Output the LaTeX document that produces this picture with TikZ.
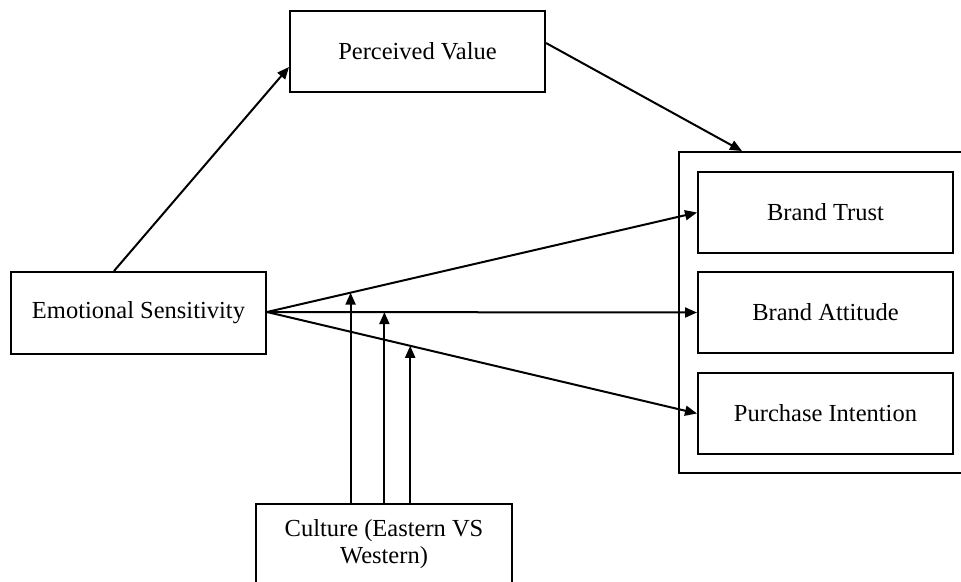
\documentclass[tikz,border=0pt]{standalone}
\usepackage{fontspec}
\setmainfont{Liberation Serif}
\usetikzlibrary{arrows.meta,calc}
\begin{document}
\begin{tikzpicture}[x=1pt,y=-1pt,
  box/.style={draw,line width=2pt,rectangle,inner sep=0pt,align=center,
    font=\fontsize{24.5}{27}\selectfont},
  conn/.style={line width=2pt,-{Triangle[length=12pt,width=10pt]}},
]
\useasboundingbox (0,0) rectangle (961,581);
\clip (0,0) rectangle (961,581);
\node[box,minimum width=255pt,minimum height=81pt] (pv) at (417.5,51.5) {Perceived Value};
\node[box,minimum width=311pt,minimum height=321pt] (outer) at (834.5,312.5) {};
\node[box,minimum width=255pt,minimum height=81pt] (bt) at (825.5,212.5) {Brand Trust};
\node[box,minimum width=255pt,minimum height=81pt] (ba) at (825.5,312.5) {Brand Attitude};
\node[box,minimum width=255pt,minimum height=81pt] (pi) at (825.5,413.5) {Purchase Intention};
\node[box,minimum width=255pt,minimum height=82pt] (es) at (138.5,313) {Emotional Sensitivity};
\node[box,minimum width=256pt,minimum height=81pt,anchor=north] (cul) at (384,503) {Culture (Eastern VS\\Western)};
% connectors
\coordinate (esTop) at ($(es.north west)+(104,0)$);
\coordinate (pvIn) at ($(pv.west)+(0,15.5)$);
\draw[conn] (esTop) -- (pvIn);
\coordinate (pvOut) at ($(pv.east)+(0,-8.5)$);
\coordinate (outIn) at ($(outer.north)+(-92.5,0)$);
\draw[conn] (pvOut) -- (outIn);
\coordinate (esOut) at ($(es.east)+(0,-1)$);
\draw[conn] (esOut) -- (bt.west);
\draw[conn] (esOut) -- (ba.west);
\draw[conn] (esOut) -- (pi.west);
\coordinate (m1) at ($(esOut)!0.1944!(bt.west)$);
\coordinate (m2) at ($(esOut)!0.273!(ba.west)$);
\coordinate (m3) at ($(esOut)!0.333!(pi.west)$);
\draw[conn] (m1 |- cul.north) -- (m1);
\draw[conn] (m2 |- cul.north) -- (m2);
\draw[conn] (m3 |- cul.north) -- (m3);
\end{tikzpicture}
\end{document}
